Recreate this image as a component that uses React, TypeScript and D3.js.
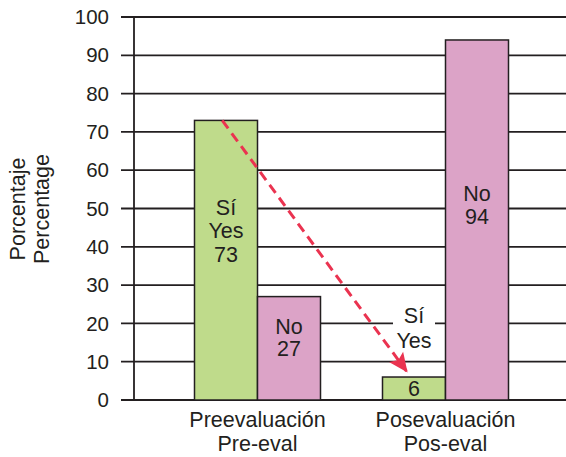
import React from "react";
import * as d3 from "d3";

const categories = ["Preevaluación|Pre-eval", "Posevaluación|Pos-eval"];
const seriesKeys = ["si", "no"];
const siValues = [73, 6];
const noValues = [27, 94];
const siLabels = ["Sí", "Yes"];
const noLabels = ["No"];
const yTicks = [0, 10, 20, 30, 40, 50, 60, 70, 80, 90, 100];
const yTitle = ["Porcentaje", "Percentage"];

const W = 566, H = 457;
const left = 134, top = 17, bottom = 400, right = 566;
const GREEN = "#bfdb8b";
const PINK = "#dca3c7";
const RED = "#ea3350";
const FONT = "Liberation Sans, Arial, sans-serif";
const FS = 20.5;
const FL = 21.5;

export default function App() {
  const y = d3.scaleLinear().domain([0, 100]).range([bottom, top]);
  const x = d3.scaleBand().domain(categories).range([163.5, 539.5]).paddingInner(0).paddingOuter(0);
  const inner = d3.scaleBand().domain(seriesKeys).range([0, x.bandwidth()]).paddingOuter(0.492).paddingInner(0);
  const bw = inner.bandwidth();

  const xs = (ci: number, k: string) => (x(categories[ci]) as number) + (inner(k) as number);

  const arrowStart = [xs(0, "si") + bw * 0.44, y(siValues[0])];
  const arrowEnd = [xs(1, "si") + bw * 0.38, y(siValues[1]) - 6];

  return (
    <svg width={W} height={H} style={{ position: "absolute", left: 0, top: 0, background: "#fff" }} fontFamily={FONT}>
      <defs>
        <marker id="ah" viewBox="0 0 10 10" refX="9" refY="5" markerWidth="6.5" markerHeight="6.5" orient="auto" markerUnits="strokeWidth">
          <path d="M0,0.5 L10,5 L0,9.5 L2,5 Z" fill={RED} />
        </marker>
      </defs>
      <rect x={0} y={0} width={W} height={H} fill="#fff" />
      {yTicks.map((t) => (
        <g key={t}>
          <line x1={121} x2={right} y1={y(t)} y2={y(t)} stroke="#231f20" strokeWidth={1.8} />
          <text x={109} y={y(t)} dy="0.35em" textAnchor="end" fontSize={FS} fill="#231f20">{t}</text>
        </g>
      ))}
      <line x1={left} x2={left} y1={top} y2={bottom} stroke="#231f20" strokeWidth={1.8} />
      {categories.map((c, i) => (
        <g key={c}>
          <rect x={xs(i, "si")} y={y(siValues[i])} width={bw} height={bottom - y(siValues[i])} fill={GREEN} stroke="#231f20" strokeWidth={1.5} />
          <rect x={xs(i, "no")} y={y(noValues[i])} width={bw} height={bottom - y(noValues[i])} fill={PINK} stroke="#231f20" strokeWidth={1.5} />
          {c.split("|").map((s, j) => (
            <text key={j} x={(x(c) as number) + x.bandwidth() / 2} y={419 + j * 24.5} dy="0.35em" textAnchor="middle" fontSize={FL} fill="#231f20">{s}</text>
          ))}
        </g>
      ))}
      <g fontSize={FL} fill="#231f20" textAnchor="middle">
        {[...siLabels, String(siValues[0])].map((s, j) => (
          <text key={"a" + j} x={xs(0, "si") + bw / 2} y={207 + j * 23.5} dy="0.35em">{s}</text>
        ))}
        {[...noLabels, String(noValues[0])].map((s, j) => (
          <text key={"b" + j} x={xs(0, "no") + bw / 2} y={326 + j * 22.5} dy="0.35em">{s}</text>
        ))}
        {[...noLabels, String(noValues[1])].map((s, j) => (
          <text key={"c" + j} x={xs(1, "no") + bw / 2} y={193 + j * 23.5} dy="0.35em">{s}</text>
        ))}
        <rect x={393} y={303} width={42} height={48} fill="#fff" />
        {siLabels.map((s, j) => (
          <text key={"d" + j} x={xs(1, "si") + bw / 2} y={315 + j * 25} dy="0.35em">{s}</text>
        ))}
        <text x={xs(1, "si") + bw / 2} y={388} dy="0.35em">{siValues[1]}</text>
      </g>
      <line x1={arrowStart[0]} y1={arrowStart[1]} x2={arrowEnd[0]} y2={arrowEnd[1]} stroke={RED} strokeWidth={3} strokeDasharray="10,6" markerEnd="url(#ah)" />
      {yTitle.map((s, j) => (
        <text key={s} transform={`translate(${17 + j * 24.5},209) rotate(-90)`} textAnchor="middle" dy="0.35em" fontSize={FL} fill="#231f20">{s}</text>
      ))}
    </svg>
  );
}
